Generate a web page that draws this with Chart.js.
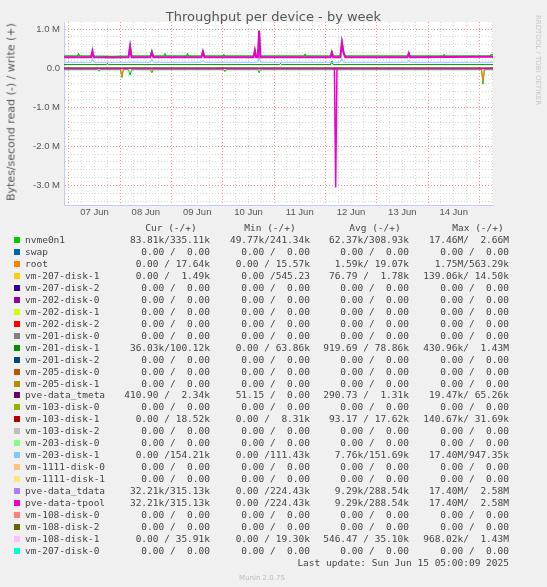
<!DOCTYPE html>
<html>
<head>
<meta charset="UTF-8">
<title>Throughput per device - by week</title>
<script src="https://cdn.jsdelivr.net/npm/chart.js"></script>
<style>
body { margin: 0; background: #f0f0f0; font-family: "DejaVu Sans", sans-serif; }
#wrap { position: relative; width: 547px; height: 587px; }
#title { position: absolute; top: 9px; left: 0; width: 547px; text-align: center; font-size: 13px; color: #555; }
#ytitle { position: absolute; left: 11px; top: 112px; transform: translate(-50%, -50%) rotate(-90deg); font-size: 11px; color: #555; white-space: nowrap; }
#rrd { position: absolute; left: 538px; top: 60px; transform: translate(-50%, -50%) rotate(90deg); font-size: 7px; color: #c8c8c8; white-space: nowrap; }
#chart_box { position: absolute; left: 0; top: 0; width: 547px; height: 222px; }
#legend { position: absolute; left: 0; top: 0; width: 547px; height: 587px; font-family: "DejaVu Sans Mono", monospace; font-size: 9.5px; color: #444; }
.c { position: absolute; white-space: pre; line-height: 12px; }
.sq { position: absolute; width: 6px; height: 6px; }
</style>
</head>
<body>
<div id="wrap">
  <div id="chart_box"><canvas id="myChart" width="547" height="222"></canvas></div>
  <div id="title">Throughput per device - by week</div>
  <div id="ytitle">Bytes/second read (-) / write (+)</div>
  <div id="rrd">RRDTOOL / TOBI OETIKER</div>
  <div id="legend"></div>
</div>
<script>
// hours since 07 Jun 00:00, values in M bytes/s
const nvme_write = [[-2.3,0.31],[4,0.31],[4.5,0.36],[5,0.31],[10.4,0.31],[11,0.42],[11.6,0.31],[20,0.3],[27.9,0.31],[28.6,0.58],[29.3,0.31],[38.1,0.31],[38.8,0.44],[39.5,0.31],[44.5,0.31],[45,0.36],[45.5,0.31],[55,0.31],[55.5,0.36],[56,0.31],[62,0.31],[62.7,0.44],[63.4,0.31],[72,0.31],[72.5,0.34],[73,0.31],[86.4,0.31],[87,0.46],[87.6,0.31],[88.4,0.31],[89,0.97],[89.6,0.31],[110,0.31],[110.5,0.35],[111,0.31],[122.4,0.31],[123,0.42],[123.6,0.31],[127,0.31],[127.7,0.68],[128.5,0.42],[129.3,0.31],[158.4,0.31],[159,0.37],[159.6,0.31],[175,0.31],[175.5,0.34],[176,0.31],[197,0.31],[197.5,0.34],[198.4,0.34]];
const tpool_write = [[-2.3,0.28],[10.4,0.28],[11,0.44],[11.6,0.28],[20,0.27],[27.9,0.28],[28.6,0.55],[29.3,0.28],[38.1,0.28],[38.8,0.4],[39.5,0.28],[62,0.28],[62.7,0.42],[63.4,0.28],[86.4,0.28],[87,0.45],[87.6,0.28],[88.4,0.28],[89,0.95],[89.6,0.28],[122.4,0.28],[123,0.4],[123.6,0.28],[127,0.28],[127.7,0.65],[128.5,0.38],[129.3,0.28],[158.4,0.28],[159,0.38],[159.6,0.28],[198.4,0.29]];
const vm203_write = [[-2.3,0.15],[10.4,0.15],[11,0.25],[11.6,0.15],[38.1,0.15],[38.8,0.23],[39.5,0.15],[62,0.15],[62.7,0.2],[63.4,0.15],[88.4,0.15],[89,0.3],[89.6,0.15],[127,0.15],[127.7,0.25],[128.4,0.15],[158.4,0.15],[159,0.2],[159.6,0.15],[198.4,0.15]];
const vm201_write = [[-2.3,0.09],[17.5,0.09],[18,0.12],[18.5,0.09],[98.5,0.09],[99,0.12],[99.5,0.09],[122.4,0.09],[123,0.18],[123.6,0.09],[198.4,0.09]];
const nvme_read = [[-2.3,-0.04],[13.5,-0.04],[14,-0.08],[14.5,-0.04],[24.1,-0.04],[24.8,-0.24],[25.5,-0.04],[27.9,-0.04],[28.6,-0.18],[29.3,-0.04],[38.1,-0.04],[38.8,-0.12],[39.5,-0.04],[72.5,-0.04],[73,-0.09],[73.5,-0.04],[88.4,-0.04],[89,-0.12],[89.6,-0.04],[193,-0.04],[193.7,-0.41],[194.4,-0.04],[198.4,-0.04]];
const root_read = [[-2.3,0],[24.1,0],[24.8,-0.2],[25.5,0],[38.1,0],[38.8,-0.06],[39.5,0],[88.4,0],[89,-0.04],[89.6,0],[193,0],[193.7,-0.33],[194.4,0],[198.4,0]];
const tpool_read = [[-2.3,-0.01],[124.2,-0.01],[124.8,-3.05],[125.4,-0.01],[198.4,-0.01]];
const tmeta_write = [[-2.3,0.0],[198.4,0.0]];

const day_labels = ['07 Jun','08 Jun','09 Jun','10 Jun','11 Jun','12 Jun','13 Jun','14 Jun'];

const names = ['nvme0n1','swap','root','vm-207-disk-1','vm-207-disk-2','vm-202-disk-0','vm-202-disk-1','vm-202-disk-2','vm-201-disk-0','vm-201-disk-1','vm-201-disk-2','vm-205-disk-0','vm-205-disk-1','pve-data_tmeta','vm-103-disk-0','vm-103-disk-1','vm-103-disk-2','vm-203-disk-0','vm-203-disk-1','vm-1111-disk-0','vm-1111-disk-1','pve-data_tdata','pve-data-tpool','vm-108-disk-0','vm-108-disk-2','vm-108-disk-1','vm-207-disk-0'];
const colors = ['#00CC00','#0066B3','#FF8000','#FFCC00','#330099','#990099','#CCFF00','#FF0000','#808080','#008F00','#00487D','#B35A00','#B38F00','#6B006B','#8FB300','#B30000','#BEBEBE','#80FF80','#80C9FF','#FFC080','#FFE680','#AA80FF','#EE00CC','#FF8080','#666600','#FFBFFF','#00FFCC'];
const z = '0.00 /  0.00';
const cur = ['83.81k/335.11k',z,'0.00 / 17.64k','0.00 /  1.49k',z,z,z,z,z,'36.03k/100.12k',z,z,z,'410.90 /  2.34k',z,'0.00 / 18.52k',z,z,'0.00 /154.21k',z,z,'32.21k/315.13k','32.21k/315.13k',z,z,'0.00 / 35.91k',z];
const mins = ['49.77k/241.34k',z,'0.00 / 15.57k','0.00 /545.23',z,z,z,z,z,'0.00 / 63.86k',z,z,z,'51.15 /  0.00',z,'0.00 /  8.31k',z,z,'0.00 /111.43k',z,z,'0.00 /224.43k','0.00 /224.43k',z,z,'0.00 / 19.30k',z];
const avgs = ['62.37k/308.93k',z,'1.59k/ 19.07k','76.79 /  1.78k',z,z,z,z,z,'919.69 / 78.86k',z,z,z,'290.73 /  1.31k',z,'93.17 / 17.62k',z,z,'7.76k/151.69k',z,z,'9.29k/288.54k','9.29k/288.54k',z,z,'546.47 / 35.10k',z];
const maxs = ['17.46M/  2.66M',z,'1.75M/563.29k','139.06k/ 14.50k',z,z,z,z,z,'430.96k/  1.43M',z,z,z,'19.47k/ 65.26k',z,'140.67k/ 31.69k',z,z,'17.40M/947.35k',z,z,'17.40M/  2.58M','17.40M/  2.58M',z,z,'968.02k/  1.43M',z];

const toXY = arr => arr.map(p => ({ x: p[0], y: p[1] * 1e6 }));
function ds(arr, color, w) {
    return { data: toXY(arr), borderColor: color, borderWidth: w || 1, pointRadius: 0, fill: false, tension: 0 };
}

// Chart.js paints dataset 0 on top, so the list runs top-most first
new Chart(document.getElementById('myChart'), {
    type: 'line',
    data: {
        datasets: [
            ds(tpool_write, '#EE00CC', 2),
            ds(tpool_read, '#EE00CC', 1.5),
            ds(vm203_write, '#80C9FF'),
            ds(tmeta_write, '#000000'),
            ds(vm201_write, '#008F00'),
            ds(root_read, '#FF8000'),
            ds(nvme_write, '#00CC00', 1.5),
            ds(nvme_read, '#00CC00')
        ]
    },
    options: {
        responsive: false,
        animation: false,
        layout: { padding: { left: 0, right: 54, top: 22, bottom: 0 } },
        plugins: { legend: { display: false }, tooltip: { enabled: false } },
        scales: {
            x: {
                type: 'linear', min: -2.3, max: 198.4,
                afterBuildTicks: s => { s.ticks = []; for (let h = 0; h <= 198; h += 6) s.ticks.push({ value: h }); },
                afterFit: s => { s.height = 17; },
                ticks: {
                    autoSkip: false, maxRotation: 0, color: '#555', font: { size: 9.5 }, padding: 2,
                    callback: v => (v % 24 === 12) ? day_labels[(v - 12) / 24] : ''
                },
                grid: {
                    color: c => (c.tick && c.tick.value % 24 === 0) ? 'rgba(240,120,120,0.8)' : '#d8d8d8',
                    drawTicks: false
                },
                border: { color: '#c8c8ff', dash: [1, 2] }
            },
            y: {
                min: -3.5e6, max: 1.18e6,
                afterBuildTicks: s => { s.ticks = []; for (let k = -17; k <= 5; k++) s.ticks.push({ value: k * 2e5 }); },
                afterFit: s => { s.width = 64; },
                ticks: {
                    autoSkip: false, color: '#555', font: { size: 9.5 }, padding: 4,
                    callback: v => {
                        const m = Math.round(v / 2e5);
                        if (m % 5 !== 0) return '';
                        return m === 0 ? '0.0' : (m / 5).toFixed(1) + ' M';
                    }
                },
                grid: {
                    color: c => (c.tick && Math.round(c.tick.value / 2e5) % 5 === 0) ? 'rgba(240,120,120,0.8)' : '#d8d8d8',
                    drawTicks: false
                },
                border: { color: '#c8c8ff', dash: [1, 2] }
            }
        }
    },
    plugins: [{
        id: 'bg',
        beforeDraw: ch => {
            const a = ch.chartArea, g = ch.ctx;
            g.save(); g.fillStyle = '#fff'; g.fillRect(a.left, a.top, a.right - a.left, a.bottom - a.top); g.restore();
        }
    }]
});

// legend table
const legend = document.getElementById('legend');
function cell(text, right, top, center) {
    const d = document.createElement('div');
    d.className = 'c';
    d.textContent = text;
    d.style.top = top + 'px';
    if (center) { d.style.left = center + 'px'; d.style.transform = 'translateX(-50%)'; }
    else d.style.right = (547 - right) + 'px';
    legend.appendChild(d);
}
cell('Cur (-/+)', 0, 222, 171);
cell('Min (-/+)', 0, 222, 270);
cell('Avg (-/+)', 0, 222, 375);
cell('Max (-/+)', 0, 222, 478);
for (let i = 0; i < names.length; i++) {
    const top = 234 + i * 11.96;
    const sq = document.createElement('div');
    sq.className = 'sq';
    sq.style.left = '14px'; sq.style.top = (top + 3) + 'px'; sq.style.background = colors[i];
    legend.appendChild(sq);
    const n = document.createElement('div');
    n.className = 'c'; n.style.left = '25px'; n.style.top = top + 'px'; n.textContent = names[i];
    legend.appendChild(n);
    cell(cur[i], 210, top);
    cell(mins[i], 310, top);
    cell(avgs[i], 409, top);
    cell(maxs[i], 509, top);
}
cell('Last update: Sun Jun 15 05:00:09 2025', 509, 557);
const mu = document.createElement('div');
mu.className = 'c'; mu.textContent = 'Munin 2.0.75';
mu.style.left = '262px'; mu.style.top = '572px'; mu.style.transform = 'translateX(-50%)';
mu.style.fontFamily = '"DejaVu Sans", sans-serif'; mu.style.fontSize = '7px'; mu.style.color = '#bbb';
legend.appendChild(mu);
</script>
</body>
</html>
